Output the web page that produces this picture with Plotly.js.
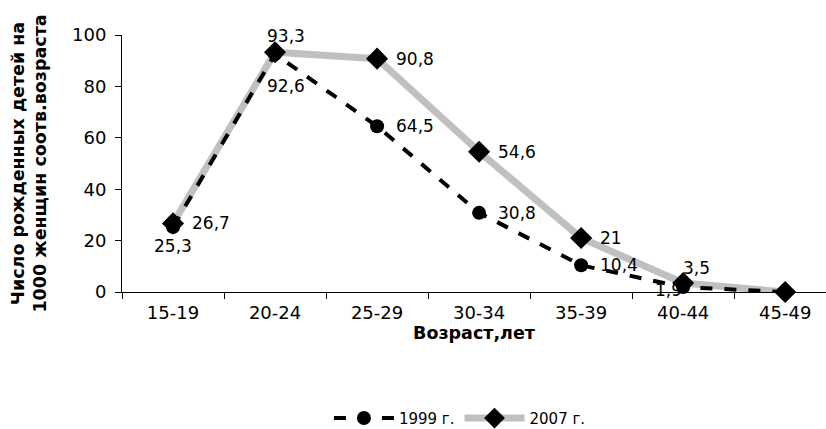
<!DOCTYPE html>
<html><head><meta charset="utf-8">
<script src="https://cdn.plot.ly/plotly-3.0.1.min.js"></script>
<style>body{margin:0}#c{width:826px;height:429px}</style>
</head><body><div id="c"></div>
<script>
const categories = ["15-19","20-24","25-29","30-34","35-39","40-44","45-49"];
const v1999 = [25.3, 92.6, 64.5, 30.8, 10.4, 1.9, 0];
const v2007 = [26.7, 93.3, 90.8, 54.6, 21, 3.5, 0];
const lbl1999 = ["25,3","92,6","64,5","30,8","10,4","1,9",""];
const lbl2007 = ["26,7","93,3","90,8","54,6","21","3,5",""];

const fam = "DejaVu Sans, Arial, sans-serif";
const font = {family: fam, size: 17, color:"#000"};
const tickFont = {family: fam, size: 18, color:"#000"};
const titleFont = {family: fam, size: 17.5, color:"#000"};
const legFont = {family: fam, size: 15, color:"#000"};

// label placement styles (pixel offsets from each point)
const R = {xanchor: "left", xshift: 17, yshift: 0};
const pos1999 = [{xanchor:"center", xshift:0, yshift:-19}, {xanchor:"center", xshift:11, yshift:-32}, R, R, R,
                 {xanchor:"center", xshift:-15, yshift:-3}, null];
const pos2007 = [R, {xanchor:"center", xshift:11, yshift:16}, R, R, R,
                 {xanchor:"center", xshift:13, yshift:15}, null];

const annotations = [];
function addLabels(vals, lbls, pos) {
  vals.forEach((v, i) => {
    if (!lbls[i] || !pos[i]) return;
    annotations.push(Object.assign({x: categories[i], y: v, xref: "x", yref: "y", text: lbls[i],
      showarrow: false, yanchor: "middle", font: font}, pos[i]));
  });
}
addLabels(v1999, lbl1999, pos1999);
addLabels(v2007, lbl2007, pos2007);

const t2007 = {
  x: categories, y: v2007, name: "2007 г.", type: "scatter", mode: "lines+markers",
  line: {color: "#c0c0c0", width: 7},
  marker: {symbol: "diamond", size: 17, color: "#000"},
  legendrank: 2, cliponaxis: false
};
const t1999 = {
  x: categories, y: v1999, name: "1999 г.", type: "scatter", mode: "lines+markers",
  line: {color: "#000", width: 4, dash: "12px,12px"},
  marker: {symbol: "circle", size: 14, color: "#000"},
  legendrank: 1, cliponaxis: false
};
Plotly.newPlot("c", [t2007, t1999], {
  width: 826, height: 429,
  margin: {l: 122, r: 0, t: 35, b: 137},
  paper_bgcolor: "#fff", plot_bgcolor: "#fff",
  font: font, showlegend: true, annotations: annotations,
  legend: {orientation: "h", x: 0.48, xanchor: "center", yref: "container", y: 0.025, yanchor: "middle",
    font: legFont, itemwidth: 60},
  xaxis: {type: "category", range: [-0.5, 6.4], showgrid: false, showline: true, linecolor: "#000", linewidth: 1,
    ticks: "outside", tickson: "boundaries", ticklen: 6, tickcolor: "#000", tickfont: tickFont, ticklabelstandoff: 4,
    title: {text: "<b>Возраст,лет</b>", font: titleFont, standoff: 4}},
  yaxis: {range: [0, 100], dtick: 20, showgrid: false, showline: true, linecolor: "#000", linewidth: 1,
    ticks: "outside", ticklen: 6, tickcolor: "#000", tickfont: tickFont, zeroline: false, ticklabelstandoff: 5,
    title: {text: "<b>Число рожденных детей на<br>1000 женщин соотв.возраста</b>", font: titleFont, standoff: 20}}
}, {staticPlot: true});
</script></body></html>
